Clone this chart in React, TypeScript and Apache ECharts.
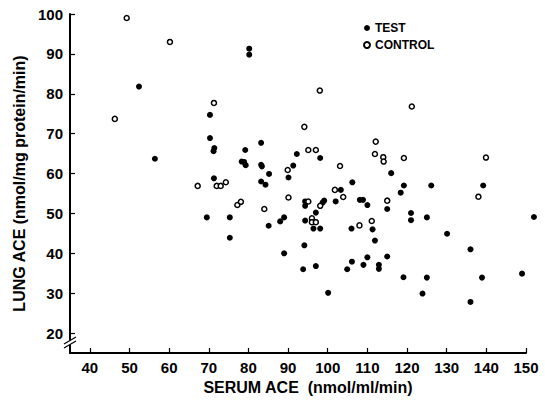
import React, { useEffect, useRef } from "react";
import * as echarts from "echarts";

const testSerum = [52.4, 56.4, 70.3, 70.3, 71.4, 71.2, 80.2, 80.2, 79.2, 83.2, 78.3, 78.9, 79.3, 83.2, 83.4, 85.2, 83.2, 84.3, 90.1, 71.3, 69.5, 75.3, 88.0, 89.0, 85.1, 75.3, 89.0, 92.2, 98.1, 91.3, 116.0, 106.2, 119.2, 118.4, 103.3, 102.0, 108.1, 108.9, 110.0, 115.0, 94.3, 94.3, 99.1, 98.7, 97.0, 94.3, 96.4, 98.1, 106.0, 111.3, 111.9, 94.1, 110.0, 115.0, 126.1, 139.2, 121.0, 121.0, 125.0, 152.0, 130.1, 136.0, 93.8, 97.0, 100.1, 104.9, 106.1, 109.0, 112.9, 112.9, 119.1, 123.9, 125.0, 136.0, 138.9, 149.0];
const testLung = [81.8, 63.7, 74.7, 68.9, 66.4, 65.6, 91.3, 89.8, 65.9, 67.7, 63.0, 62.9, 62.1, 62.2, 61.8, 59.9, 58.0, 57.2, 59.0, 58.8, 49.0, 49.0, 48.0, 49.0, 46.9, 43.9, 40.0, 64.9, 63.9, 62.0, 60.1, 57.8, 57.0, 55.2, 55.9, 53.0, 53.4, 53.4, 52.1, 51.1, 53.0, 51.9, 53.2, 52.7, 50.2, 48.2, 46.2, 46.2, 46.2, 46.0, 43.2, 42.0, 39.0, 39.2, 57.0, 57.0, 50.1, 48.3, 49.0, 49.1, 44.9, 41.0, 36.0, 36.8, 30.1, 36.0, 37.9, 37.1, 37.1, 36.1, 34.0, 29.9, 33.9, 27.8, 33.9, 34.9];

const controlSerum = [49.3, 60.2, 46.3, 71.3, 98.0, 94.1, 121.2, 89.9, 90.1, 67.2, 72.0, 73.0, 74.3, 77.2, 78.1, 84.0, 112.1, 95.1, 97.0, 111.9, 114.0, 114.1, 119.2, 103.1, 101.8, 103.9, 115.0, 95.1, 98.1, 96.0, 96.0, 97.0, 108.0, 111.1, 139.9, 138.0];
const controlLung = [99.0, 93.0, 73.7, 77.7, 80.8, 71.7, 76.8, 60.9, 54.0, 56.9, 56.9, 56.9, 57.8, 52.1, 52.9, 51.1, 68.0, 65.9, 65.9, 64.9, 64.1, 63.0, 63.9, 61.9, 55.9, 54.1, 53.2, 53.0, 51.9, 48.8, 47.8, 47.8, 47.0, 48.1, 64.0, 54.2];

const xTicks = [40, 50, 60, 70, 80, 90, 100, 110, 120, 130, 140, 150];
const yTicks = [20, 30, 40, 50, 60, 70, 80, 90, 100];

const seriesNames = ["TEST", "CONTROL"];
const xTitle = "SERUM ACE  (nmol/ml/min)";
const yTitle = "LUNG ACE (nmol/mg protein/min)";

const FONT = "'Liberation Sans', Arial, Helvetica, sans-serif";

export default function App() {
  const ref = useRef<HTMLDivElement>(null);
  useEffect(() => {
    document.body.style.margin = "0";
    if (!ref.current) return;
    const chart = echarts.init(ref.current, null, { renderer: "svg" });
    const zip = (a: number[], b: number[]) => a.map((v, i) => [v, b[i]]);
    const axisCommon = {
      axisLine: { show: true, onZero: false, lineStyle: { color: "#000", width: 2 } },
      axisTick: { show: true, inside: true, length: 5, lineStyle: { color: "#000", width: 1.2 } },
      splitLine: { show: false },
    };
    const labelStyle = { color: "#000", fontWeight: "bold", fontSize: 15, fontFamily: FONT };
    chart.setOption({
      animation: false,
      backgroundColor: "#fff",
      grid: { left: 70, right: 19, top: 14, bottom: 50, containLabel: false },
      legend: {
        data: seriesNames,
        orient: "vertical",
        left: 358,
        top: 16,
        itemWidth: 6,
        itemHeight: 6,
        itemGap: 3,
        icon: "circle",
        textStyle: { color: "#000", fontWeight: "bold", fontSize: 12, fontFamily: FONT, lineHeight: 14 },
      },
      xAxis: {
        type: "value",
        min: 35,
        max: 150,
        name: xTitle,
        nameLocation: "middle",
        nameGap: 22,
        nameTextStyle: { color: "#000", fontWeight: "bold", fontSize: 16, fontFamily: FONT, padding: [0, 0, 0, 20] },
        ...axisCommon,
        axisTick: { ...axisCommon.axisTick, customValues: xTicks },
        axisLabel: { customValues: xTicks, ...labelStyle, margin: 7 },
      },
      yAxis: {
        type: "value",
        min: 15,
        max: 100,
        name: yTitle,
        nameLocation: "middle",
        nameGap: 42,
        nameTextStyle: { color: "#000", fontWeight: "bold", fontSize: 16, fontFamily: FONT },
        ...axisCommon,
        axisTick: { ...axisCommon.axisTick, customValues: yTicks },
        axisLabel: { customValues: yTicks, ...labelStyle, margin: 7 },
      },
      series: [
        {
          name: seriesNames[0],
          type: "scatter",
          clip: false,
          symbol: "circle",
          symbolSize: 6,
          itemStyle: { color: "#000", opacity: 1 },
          data: zip(testSerum, testLung),
        },
        {
          name: seriesNames[1],
          type: "scatter",
          clip: false,
          symbol: "circle",
          symbolSize: 5,
          itemStyle: { color: "#fff", borderColor: "#000", borderWidth: 1.5, opacity: 1 },
          data: zip(controlSerum, controlLung),
        },
      ],
      graphic: [
        { type: "rect", shape: { x: 66, y: 340, width: 8, height: 5 }, style: { fill: "#fff" }, z: 100 },
        { type: "line", shape: { x1: 64, y1: 348, x2: 76, y2: 341 }, style: { stroke: "#000", lineWidth: 1.2 }, z: 101 },
        { type: "line", shape: { x1: 64, y1: 344, x2: 76, y2: 337 }, style: { stroke: "#000", lineWidth: 1.2 }, z: 101 },
      ],
    });
    return () => chart.dispose();
  }, []);
  return <div ref={ref} style={{ width: 545, height: 403 }} />;
}
